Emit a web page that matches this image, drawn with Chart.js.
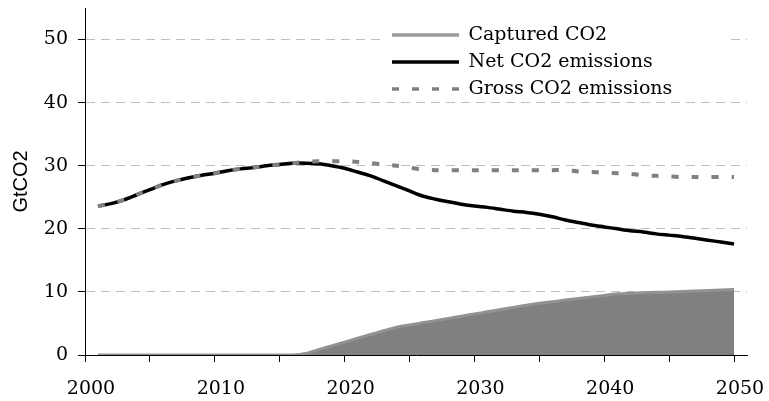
<!DOCTYPE html>
<html>
<head>
<meta charset="utf-8">
<title>Captured, net and gross CO2 emissions</title>
<script src="https://cdn.jsdelivr.net/npm/chart.js@4.4.1/dist/chart.umd.min.js"></script>
<style>
  html, body { margin: 0; padding: 0; background: #fff; }
  #co2Chart { display: block; }
</style>
</head>
<body>
<canvas id="co2Chart" width="769" height="401"></canvas>
<script>
// Data (GtCO2 per year)
const years = [
  2001, 2002, 2003, 2004, 2005, 2006, 2007, 2008, 2009, 2010,
  2011, 2012, 2013, 2014, 2015, 2016, 2017, 2018, 2019, 2020,
  2021, 2022, 2023, 2024, 2025, 2026, 2027, 2028, 2029, 2030,
  2031, 2032, 2033, 2034, 2035, 2036, 2037, 2038, 2039, 2040,
  2041, 2042, 2043, 2044, 2045, 2046, 2047, 2048, 2049, 2050
];
const capturedCO2 = [
  0, 0, 0, 0, 0, 0, 0, 0, 0, 0,
  0, 0, 0, 0, 0, 0, 0.25, 0.85, 1.45, 2.05,
  2.65, 3.25, 3.85, 4.4, 4.75, 5.1, 5.45, 5.8, 6.15, 6.5,
  6.85, 7.2, 7.55, 7.9, 8.2, 8.45, 8.7, 8.95, 9.2, 9.45,
  9.7, 9.78, 9.85, 9.93, 10.0, 10.08, 10.15, 10.23, 10.3, 10.4
];
const netCO2 = [
  23.6, 24.0, 24.6, 25.4, 26.2, 27.0, 27.6, 28.1, 28.5, 28.8,
  29.2, 29.5, 29.7, 30.0, 30.2, 30.4, 30.4, 30.3, 30.0, 29.6,
  29.0, 28.4, 27.6, 26.8, 26.0, 25.2, 24.7, 24.3, 23.9, 23.6,
  23.4, 23.1, 22.8, 22.6, 22.3, 21.9, 21.4, 21.0, 20.6, 20.3,
  20.0, 19.7, 19.5, 19.2, 19.0, 18.8, 18.5, 18.2, 17.9, 17.6
];
const grossCO2 = [
  23.6, 24.0, 24.6, 25.4, 26.2, 27.0, 27.6, 28.1, 28.5, 28.8,
  29.2, 29.5, 29.7, 30.0, 30.2, 30.4, 30.6, 30.7, 30.7, 30.7,
  30.6, 30.4, 30.2, 30.0, 29.7, 29.4, 29.3, 29.3, 29.3, 29.3,
  29.3, 29.3, 29.3, 29.3, 29.3, 29.3, 29.3, 29.1, 29.0, 28.9,
  28.8, 28.7, 28.5, 28.4, 28.3, 28.2, 28.2, 28.2, 28.2, 28.2
];

// Axis ticks
const xTickMarks = [2000, 2005, 2010, 2015, 2020, 2025, 2030, 2035, 2040, 2045, 2050];
const xLabels = [2000, 2010, 2020, 2030, 2040, 2050];
const yTicks = [0, 10, 20, 30, 40, 50];

const toPoints = values => years.map((yr, i) => ({ x: yr, y: values[i] }));

Chart.defaults.font.family = "'DejaVu Serif', serif";
Chart.defaults.font.size = 19;
Chart.defaults.color = '#000';

// Put the legend inside the plot, top right, on a white box like the original
const legendPlacement = {
  id: 'legendPlacement',
  afterLayout(chart) {
    const lg = chart.legend;
    lg.left = 384;
    lg.top = 17.5;
    lg.right = lg.left + lg.width;
    lg.bottom = lg.top + lg.height;
  },
  beforeDatasetsDraw(chart) {
    const lg = chart.legend;
    const ctx = chart.ctx;
    ctx.save();
    ctx.fillStyle = '#fff';
    ctx.fillRect(lg.left, lg.top, chart.chartArea.right - 17 - lg.left, 82);
    ctx.restore();
    lg.draw();
  }
};

// legend samples: take line colour / width / dash from the dataset itself
const legendLabels = chart => chart.data.datasets.map((ds, i) => ({
  text: ds.label,
  datasetIndex: i,
  pointStyle: 'line',
  strokeStyle: ds.legendColor || ds.borderColor,
  fillStyle: ds.borderColor,
  lineWidth: 3.5,
  lineDash: ds.borderDash || [],
  lineCap: 'butt',
  hidden: false
}));

const noEdgePadding = s => {
  s.paddingTop = 0; s.paddingBottom = 0; s.paddingLeft = 0; s.paddingRight = 0;
};

const ctx = document.getElementById('co2Chart').getContext('2d');
new Chart(ctx, {
  type: 'line',
  data: {
    datasets: [
      {
        label: 'Captured CO2',
        data: toPoints(capturedCO2),
        borderColor: '#929292',
        legendColor: '#999999',
        backgroundColor: '#808080',
        borderWidth: 3,
        fill: 'origin',
        pointRadius: 0,
        tension: 0.2,
        order: 3
      },
      {
        label: 'Net CO2 emissions',
        data: toPoints(netCO2),
        borderColor: '#000',
        borderWidth: 3.5,
        fill: false,
        pointRadius: 0,
        tension: 0.3,
        order: 2
      },
      {
        label: 'Gross CO2 emissions',
        data: toPoints(grossCO2),
        borderColor: '#808080',
        borderWidth: 4,
        borderDash: [7, 13],
        fill: false,
        pointRadius: 0,
        tension: 0.3,
        order: 1
      }
    ]
  },
  options: {
    responsive: false,
    animation: false,
    devicePixelRatio: 1,
    layout: { padding: { left: 0, right: 22, top: 8, bottom: 0 } },
    plugins: {
      tooltip: { enabled: false },
      legend: {
        position: 'chartArea',
        align: 'start',
        labels: {
          usePointStyle: true,
          pointStyle: 'line',
          pointStyleWidth: 67,
          padding: 8,
          color: '#000',
          font: { family: "'DejaVu Serif', serif", size: 19 },
          generateLabels: legendLabels
        }
      }
    },
    scales: {
      x: {
        type: 'linear',
        min: 2000,
        max: 2051,
        afterBuildTicks: s => { s.ticks = xTickMarks.map(v => ({ value: v })); },
        afterFit: s => { s.height = 46; noEdgePadding(s); },
        grid: { drawOnChartArea: false, drawTicks: true, tickLength: 7, color: '#000', tickColor: '#000' },
        border: { color: '#000', width: 1 },
        ticks: {
          autoSkip: false,
          maxRotation: 0,
          padding: 16,
          labelOffset: 6,
          color: '#000',
          callback: v => xLabels.includes(v) ? String(v) : ''
        }
      },
      y: {
        min: 0,
        max: 55,
        afterBuildTicks: s => { s.ticks = yTicks.map(v => ({ value: v })); },
        afterFit: s => { s.width = 85; noEdgePadding(s); },
        grid: { color: '#bfbfbf', lineWidth: 1, tickLength: 7, tickColor: '#000' },
        border: { color: '#000', width: 1, dash: [9, 6] },
        ticks: { padding: 10, color: '#000' },
        title: {
          display: true,
          text: 'GtCO2',
          color: '#000',
          font: { family: "'Liberation Sans', sans-serif", size: 20 },
          padding: { top: 9, bottom: 0 }
        }
      }
    }
  },
  plugins: [legendPlacement]
});
</script>
</body>
</html>
